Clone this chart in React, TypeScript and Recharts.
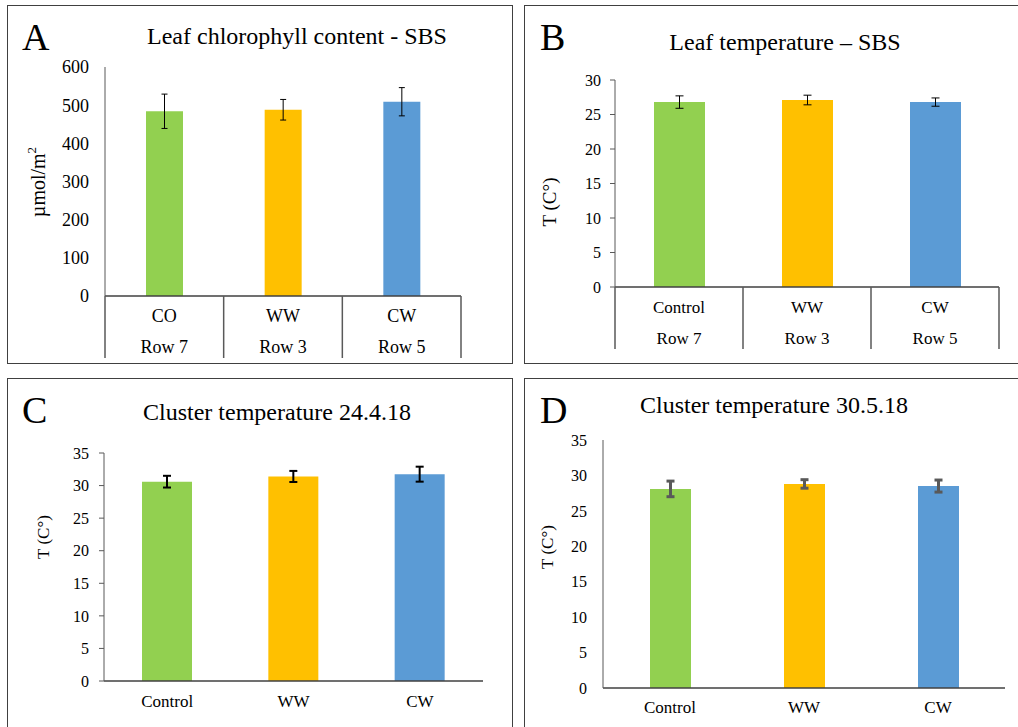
import React from 'react';
import { BarChart, Bar, XAxis, YAxis, Cell, ErrorBar } from 'recharts';

const FONT = '"Liberation Serif", "Times New Roman", serif';
const BOX = '#595959';
const AXIS = '#404040';

// categories
const codesA = ['CO', 'WW', 'CW'];
const treatments = ['Control', 'WW', 'CW'];
const rowLabels = ['Row 7', 'Row 3', 'Row 5'];
const barColors = ['#92D050', '#FFC000', '#5B9BD5'];

// A - leaf chlorophyll (umol/m2)
const chlorophyll = [484, 488, 509];
const chlorophyllErr = [45, 27, 37];
const chlorophyllTicks = [0, 100, 200, 300, 400, 500, 600];

// B - leaf temperature
const leafTemp = [26.8, 27.1, 26.8];
const leafTempErr = [0.9, 0.7, 0.6];
const leafTempTicks = [0, 5, 10, 15, 20, 25, 30];

// C - cluster temperature 24.4.18
const cluster0424 = [30.6, 31.4, 31.75];
const cluster0424Err = [0.9, 0.85, 1.15];

// D - cluster temperature 30.5.18
const cluster0530 = [28.1, 28.8, 28.5];
const cluster0530Err = [1.1, 0.6, 0.85];

const clusterTicks = [0, 5, 10, 15, 20, 25, 30, 35];

const toRows = (names: string[], vals: number[], errs: number[]) =>
  names.map((name, i) => ({ name, value: vals[i], err: errs[i] }));

function TableTick(props: any) {
  const { x, y, payload, index, band, fontSize } = props;
  const i = payload?.index ?? index;
  return (
    <g>
      {i === 0 && <line x1={x - band / 2} x2={x - band / 2} y1={y} y2={y + 62} stroke={BOX} strokeWidth={1.5} />}
      <line x1={x + band / 2} x2={x + band / 2} y1={y} y2={y + 62} stroke={BOX} strokeWidth={1.5} />
      <text x={x} y={y + 26} textAnchor="middle" fontSize={fontSize} fontFamily={FONT} fill="#000">
        {payload.value}
      </text>
      <text x={x} y={y + 57} textAnchor="middle" fontSize={fontSize} fontFamily={FONT} fill="#000">
        {rowLabels[i]}
      </text>
    </g>
  );
}

function YLabel(props: any) {
  const { lx, ly, size, text, sup } = props;
  return (
    <text
      x={lx}
      y={ly}
      transform={`rotate(-90, ${lx}, ${ly})`}
      textAnchor="middle"
      dominantBaseline="central"
      fontSize={size}
      fontFamily={FONT}
      fill="#000"
    >
      {text}
      {sup && (
        <tspan fontSize={size * 0.65} dy={-7}>
          {sup}
        </tspan>
      )}
    </text>
  );
}

function Panel(props: any) {
  const {
    left, top, width, height, margin, yWidth, xHeight, data, domain, ticks,
    yFont, yTickSize, yTickMargin, barSize, err, table, xFont, xMargin, label,
  } = props;
  const band = (width - margin.left - margin.right - yWidth) / data.length;
  return (
    <div style={{ position: 'absolute', left, top }}>
      <BarChart width={width} height={height} data={data} margin={margin}>
        {table ? (
          <XAxis
            dataKey="name"
            height={xHeight}
            tickSize={0}
            tickMargin={0}
            tickLine={false}
            axisLine={{ stroke: AXIS, strokeWidth: 1.5 }}
            interval={0}
            tick={(p: any) => <TableTick {...p} band={band} fontSize={xFont} />}
          />
        ) : (
          <XAxis
            dataKey="name"
            height={xHeight}
            tickSize={0}
            tickMargin={xMargin}
            tickLine={false}
            axisLine={{ stroke: AXIS, strokeWidth: 1.5 }}
            interval={0}
            tick={{ fill: '#000', fontSize: xFont, fontFamily: FONT }}
          />
        )}
        <XAxis xAxisId="top" dataKey="name" orientation="top" height={0} tick={false} tickLine={false} axisLine={{ stroke: BOX }} />
        <YAxis
          width={yWidth}
          domain={domain}
          ticks={ticks}
          interval={0}
          tickSize={yTickSize}
          tickMargin={yTickMargin}
          tickLine={yTickSize > 0 ? { stroke: BOX } : false}
          axisLine={{ stroke: BOX }}
          tick={{ fill: '#000', fontSize: yFont, fontFamily: FONT }}
          label={<YLabel {...label} />}
        />
        <YAxis yAxisId="right" orientation="right" width={0} domain={domain} tick={false} tickLine={false} axisLine={{ stroke: BOX }} />
        <Bar dataKey="value" barSize={barSize} isAnimationActive={false}>
          {data.map((d: any, i: number) => (
            <Cell key={d.name} fill={barColors[i]} />
          ))}
          <ErrorBar dataKey="err" width={err.width} stroke={err.color} strokeWidth={err.sw} isAnimationActive={false} />
        </Bar>
      </BarChart>
    </div>
  );
}

const frame = (left: number, top: number, width: number, height: number): React.CSSProperties => ({
  position: 'absolute', left, top, width, height, border: '1.5px solid #404040', boxSizing: 'border-box',
});

const letter = (left: number, top: number): React.CSSProperties => ({
  position: 'absolute', left, top, fontSize: 38, lineHeight: '38px', fontFamily: FONT, color: '#000',
});

const title = (cx: number, top: number): React.CSSProperties => ({
  position: 'absolute', left: cx - 200, width: 400, top, textAlign: 'center', fontSize: 24, lineHeight: '24px',
  fontFamily: FONT, color: '#000', whiteSpace: 'nowrap',
});

export default function App() {
  return (
    <div style={{ position: 'absolute', left: 0, top: 0, width: 1018, height: 727, background: '#fff', overflow: 'hidden' }}>
      <div style={frame(7, 5, 506, 359)} />
      <div style={frame(524, 5, 510, 359)} />
      <div style={frame(7, 378, 506, 360)} />
      <div style={frame(524, 378, 510, 360)} />

      <Panel
        left={8} top={6} width={504} height={357}
        margin={{ top: 61, right: 51, bottom: 5, left: 0 }}
        yWidth={97} xHeight={62}
        data={toRows(codesA, chlorophyll, chlorophyllErr)}
        domain={[0, 600]} ticks={chlorophyllTicks}
        yFont={18} yTickSize={0} yTickMargin={16}
        barSize={37} err={{ width: 3, color: '#000', sw: 1 }}
        table xFont={18}
        label={{ lx: 30, ly: 176, size: 20, text: 'µmol/m', sup: '2' }}
      />
      <Panel
        left={525} top={6} width={493} height={357}
        margin={{ top: 74, right: 19, bottom: 14, left: 0 }}
        yWidth={90} xHeight={62}
        data={toRows(treatments, leafTemp, leafTempErr)}
        domain={[0, 30]} ticks={leafTempTicks}
        yFont={16} yTickSize={5} yTickMargin={9}
        barSize={51} err={{ width: 4, color: '#000', sw: 1 }}
        table xFont={17}
        label={{ lx: 24, ly: 196, size: 19, text: 'T (C°)' }}
      />
      <Panel
        left={8} top={379} width={504} height={348}
        margin={{ top: 74, right: 29, bottom: 6, left: 0 }}
        yWidth={96} xHeight={40}
        data={toRows(treatments, cluster0424, cluster0424Err)}
        domain={[0, 35]} ticks={clusterTicks}
        yFont={16} yTickSize={5} yTickMargin={10}
        barSize={50} err={{ width: 4, color: '#000', sw: 2 }}
        xFont={17} xMargin={14}
        label={{ lx: 35, ly: 158, size: 17, text: 'T (C°)' }}
      />
      <Panel
        left={525} top={379} width={493} height={348}
        margin={{ top: 61, right: 13, bottom: 4, left: 0 }}
        yWidth={78} xHeight={35}
        data={toRows(treatments, cluster0530, cluster0530Err)}
        domain={[0, 35]} ticks={clusterTicks}
        yFont={16} yTickSize={0} yTickMargin={16}
        barSize={41} err={{ width: 4, color: '#595959', sw: 3 }}
        xFont={17} xMargin={13}
        label={{ lx: 22, ly: 168, size: 17, text: 'T (C°)' }}
      />

      <div style={letter(22, 18)}>A</div>
      <div style={letter(540, 18)}>B</div>
      <div style={letter(22, 391)}>C</div>
      <div style={letter(540, 391)}>D</div>

      <div style={title(297, 24)}>Leaf chlorophyll content - SBS</div>
      <div style={title(785, 30)}>Leaf temperature – SBS</div>
      <div style={title(277, 400)}>Cluster temperature 24.4.18</div>
      <div style={title(774, 393)}>Cluster temperature 30.5.18</div>
    </div>
  );
}
